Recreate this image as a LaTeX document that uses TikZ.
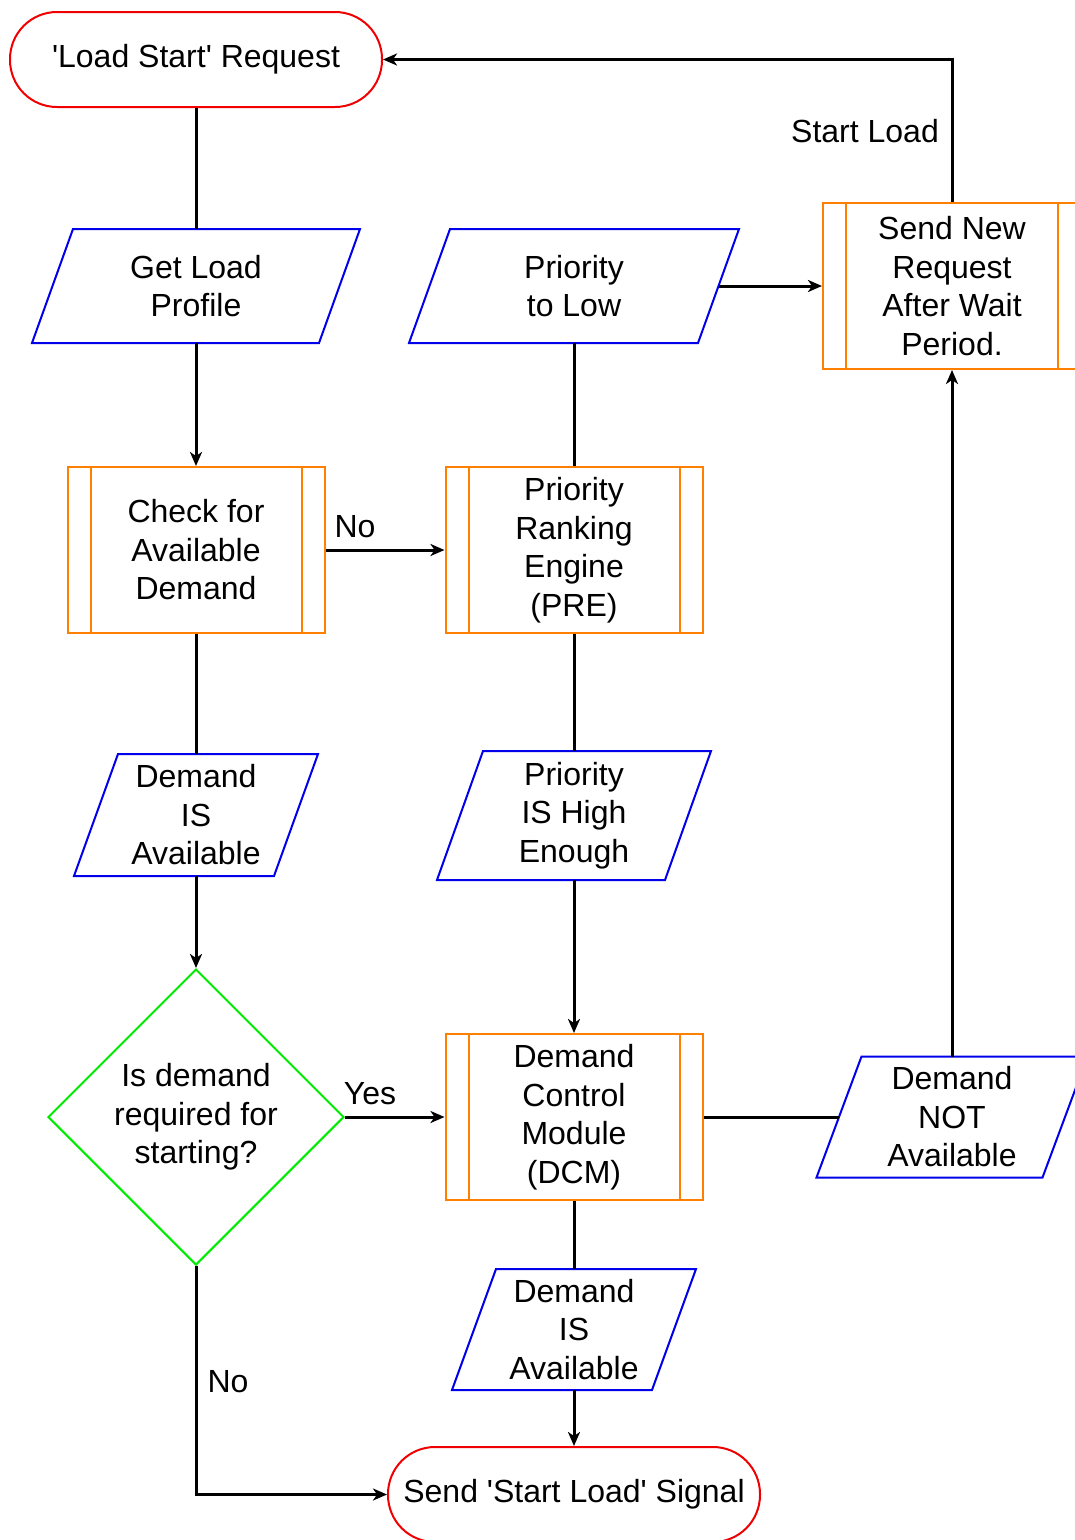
\documentclass[tikz,border=0pt]{standalone}
\usepackage{fontspec}
\setmainfont{Liberation Sans}
\usetikzlibrary{shapes.geometric,arrows.meta,calc}

\definecolor{termred}{RGB}{240,0,0}
\definecolor{subor}{RGB}{255,128,0}
\definecolor{iobl}{RGB}{0,0,235}
\definecolor{decgr}{RGB}{0,235,0}

\newcommand{\qt}{\textquotesingle}
% frame a data node with a right-leaning parallelogram;
% #1 node name, #2 half the horizontal slant of its sides
\newcommand{\ioframe}[2]{%
  \draw[ioline] ([xshift=-#2]#1.south west) -- ([xshift=-#2]#1.south east)
    -- ([xshift=#2]#1.north east) -- ([xshift=#2]#1.north west) -- cycle;}

\tikzset{
  base/.style={font=\fontsize{32}{38.5}\selectfont, align=center, inner sep=2pt, line width=2pt},
  term/.style={base, draw=termred, rounded corners=47pt, minimum width=372pt, minimum height=95pt},
  io/.style={base, rectangle, outer sep=0pt},
  ioline/.style={draw=iobl, line width=2pt, line join=miter},
  subproc/.style={base, draw=subor, rectangle, minimum width=257pt, minimum height=166pt,
    path picture={
      \draw[subor, line width=2pt]
        ([xshift=23pt]path picture bounding box.north west) -- ([xshift=23pt]path picture bounding box.south west)
        ([xshift=-23pt]path picture bounding box.north east) -- ([xshift=-23pt]path picture bounding box.south east);
    }},
  decision/.style={base, draw=decgr, diamond, aspect=1, minimum width=296pt, minimum height=296pt},
  conn/.style={line width=3pt, black},
  arr/.style={conn, -{Stealth[length=14pt, width=12pt, inset=4pt]}},
  lbl/.style={font=\fontsize{32}{38.5}\selectfont, inner sep=0pt}
}

\begin{document}
\begin{tikzpicture}[x=1pt, y=-1pt]
  \clip (0,0) rectangle (1075,1540);
  \fill[white] (0,0) rectangle (1075,1540);

  % flowchart nodes
  \node[term] (start) at (196,59.5) {\qt Load Start\qt{} Request};
  \node[io, minimum width=287pt, minimum height=114pt] (profile) at (196,286) {Get Load\\Profile};
  \node[io, minimum width=289pt, minimum height=114pt] (low) at (574,286) {Priority\\to Low};
  \node[subproc, minimum width=258pt] (resend) at (952,286) {Send New\\Request\\After Wait\\Period.};
  \node[subproc] (check) at (196,550) {Check for\\Available\\Demand};
  \node[subproc] (pre) at (574,550) {Priority\\Ranking\\Engine\\(PRE)};
  \node[io, minimum width=200pt, minimum height=122pt] (availA) at (196,815) {Demand\\IS\\Available};
  \node[io, minimum width=228pt, minimum height=129pt] (high) at (574,815.5) {Priority\\IS High\\Enough};
  \node[decision] (required) at (196,1117) {Is demand\\required for\\starting?};
  \node[subproc] (dcm) at (574,1117) {Demand\\Control\\Module\\(DCM)};
  \node[io, minimum width=226pt, minimum height=121pt] (notavail) at (952,1117) {Demand\\NOT\\Available};
  \node[io, minimum width=200pt, minimum height=121pt] (availB) at (574,1329.5) {Demand\\IS\\Available};
  \node[term] (signal) at (574,1494.5) {Send \qt Start Load\qt{} Signal};

  % parallelogram outlines of the data nodes
  \ioframe{profile}{20.5pt}
  \ioframe{low}{20.5pt}
  \ioframe{availA}{22pt}
  \ioframe{high}{23pt}
  \ioframe{notavail}{22.5pt}
  \ioframe{availB}{22pt}

  % connectors
  \draw[conn] (start) -- (profile);
  \draw[arr] (profile) -- (check);
  \draw[arr] (check) -- (pre);
  \draw[conn] (low) -- (pre);
  \draw[arr] (low) -- (resend);
  \draw[arr] (resend.north) |- (start.east);
  \draw[conn] (check) -- (availA);
  \draw[arr] (availA) -- (required);
  \draw[conn] (pre) -- (high);
  \draw[arr] (high) -- (dcm);
  \draw[arr] (required) -- (dcm);
  \draw[conn] (dcm) -- (notavail);
  \draw[arr] (notavail) -- (resend);
  \draw[conn] (dcm) -- (availB);
  \draw[arr] (availB) -- (signal);
  \draw[arr] (required.south) |- (signal.west);

  % connector labels
  \node[lbl] (lStart) at (865,131) {Start Load};
  \node[lbl] (lNo1) at (355,527) {No};
  \node[lbl] (lYes) at (370,1094) {Yes};
  \node[lbl] (lNo2) at (228,1382) {No};
\end{tikzpicture}
\end{document}
